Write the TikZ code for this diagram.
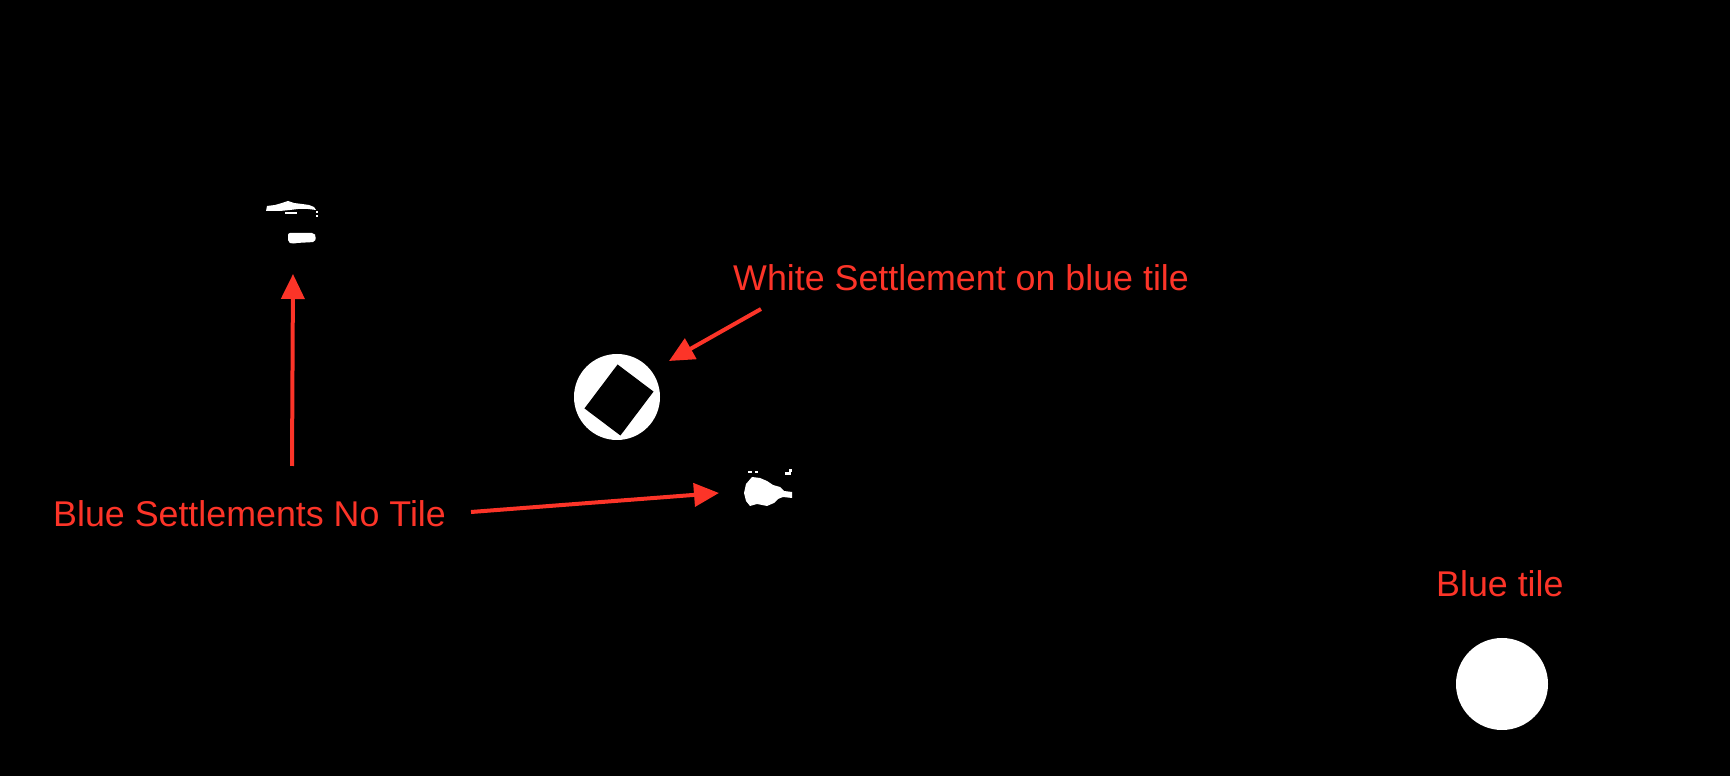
\documentclass[tikz,border=0pt]{standalone}
\usepackage{fontspec}
\setmainfont{Liberation Sans}
\usetikzlibrary{arrows.meta}
\definecolor{annot}{RGB}{252,52,40}
\tikzset{
  label text/.style={text=annot, font=\fontsize{35.8}{42}\selectfont, inner sep=0pt, anchor=base west},
  callout/.style={draw=annot, line width=4pt, -{Triangle[length=25pt,width=23pt]}},
  blob/.style={fill=white, draw=none},
}
\begin{document}
\begin{tikzpicture}[x=1pt,y=1pt]
\fill[black] (0,0) rectangle (1730,776);
\useasboundingbox (0,0) rectangle (1730,776);
\begin{scope}[yshift=776pt, yscale=-1]
  % top-left settlement fragments
  \fill[blob] (266,211) -- (267,206) -- (275,205) -- (282,203) -- (288,201) -- (294,203) -- (302,204) -- (309,205) -- (314,207) -- (316,210) -- (308,209) -- (298,209) -- (290,210) -- (280,211) -- cycle;
  \fill[blob] (285,212) rectangle (297,214);
  \fill[blob] (316,211) rectangle (318,213);
  \fill[blob] (316,215) rectangle (318,217);
  \fill[blob, rounded corners=2pt] (288,233) -- (314,233) -- (316,236) -- (315,242) -- (296,243) -- (292,244) -- (288,242) -- cycle;
  % white settlement on blue tile
  \fill[blob] (617,397) circle (43);
  \fill[black, rotate around={-53:(619,400)}] (591.5,377.5) rectangle (646.5,422.5);
  % second blue settlement
  \fill[blob] (746,484) -- (752,477) -- (760,478) -- (767,481) -- (773,485) -- (780,487) -- (784,491) -- (792,492) -- (792,498) -- (783,497) -- (778,499) -- (774,503) -- (767,506) -- (757,504) -- (750,506) -- (746,501) -- (744,493) -- cycle;
  \fill[blob] (748,471) rectangle (752,473);
  \fill[blob] (755,471) rectangle (758,473);
  \fill[blob] (785,472) rectangle (791,475);
  \fill[blob] (789,469) rectangle (792,472);
  % blue tile
  \fill[blob] (1502,684) circle (46);

  % labels
  \node[label text] (bsnt) at (53,527) {Blue Settlements No Tile};
  \node[label text] (wsbt) at (733,291) {White Settlement on blue tile};
  \node[label text] (bt) at (1436,597) {Blue tile};

  % arrow end points
  \coordinate (a1s) at (292,466);
  \coordinate (a1e) at (293,274);
  \coordinate (a2s) at (471,512);
  \coordinate (a2e) at (719,493);
  \coordinate (a3s) at (761,309);
  \coordinate (a3e) at (669,361);
\end{scope}
\draw[callout] (a1s) -- (a1e);
\draw[callout] (a2s) -- (a2e);
\draw[callout] (a3s) -- (a3e);
\end{tikzpicture}
\end{document}
